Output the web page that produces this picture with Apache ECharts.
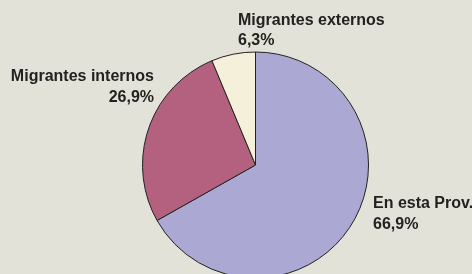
<!DOCTYPE html>
<html>
<head>
<meta charset="utf-8">
<script src="https://cdn.jsdelivr.net/npm/echarts@6/dist/echarts.min.js"></script>
<style>
  html, body { margin: 0; padding: 0; background: #e3e2d8; }
  #chart { width: 472px; height: 274px; }
</style>
</head>
<body>
<div id="chart"></div>
<script>
const categories = ['En esta Prov.', 'Migrantes internos', 'Migrantes externos']
const values = [66.9, 26.9, 6.3]
const colors = ['#aca8d4', '#b4607f', '#f5f0da']

// label anchors (left/right edge, top of first line)
const labelSpots = [
  { x: 373, y: 193.5, align: 'left' },
  { x: 154, y: 66.5, align: 'right' },
  { x: 238, y: 10, align: 'left' }
]

const chart = echarts.init(document.getElementById('chart'))

chart.setOption({
  backgroundColor: '#e3e2d8',
  animation: false,
  series: [{
    type: 'pie',
    center: [255.5, 165],
    radius: 113,
    startAngle: 90,
    clockwise: true,
    itemStyle: { borderColor: '#222', borderWidth: 1 },
    label: {
      show: true,
      position: 'outside',
      overflow: 'none',
      formatter: p => p.name + '\n' + p.value.toFixed(1).replace('.', ',') + '%',
      fontFamily: 'Liberation Sans, Arial, sans-serif',
      fontWeight: 'bold',
      fontSize: 16,
      lineHeight: 20.5,
      color: '#222'
    },
    labelLine: { show: false },
    labelLayout: params => {
      const s = labelSpots[params.dataIndex]
      return { x: s.x, y: s.y, align: s.align, verticalAlign: 'top' }
    },
    emphasis: { disabled: true },
    data: categories.map((c, i) => ({
      name: c,
      value: values[i],
      itemStyle: { color: colors[i] }
    }))
  }]
})
</script>
</body>
</html>
